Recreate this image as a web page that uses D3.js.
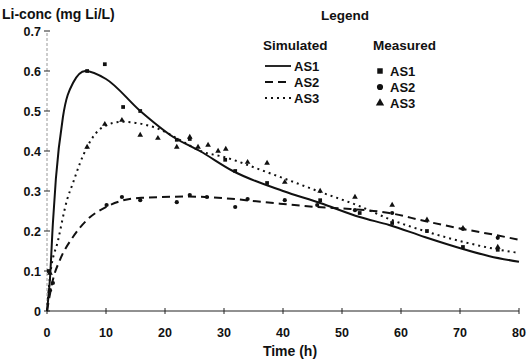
<!DOCTYPE html>
<html>
<head>
<meta charset="utf-8">
<script src="https://cdn.jsdelivr.net/npm/d3@7"></script>
<style>
	body { margin: 0; background: #fff; }
	svg text { font-family: "Liberation Sans", Arial, sans-serif; font-weight: bold; fill: #111; }
</style>
</head>
<body>
<div id="chart"></div>
<script>
// SIMULATED CURVES [time (h), Li-conc (mg Li/L)]
const simAS1 = [[0,0],[0.5,0.08],[1,0.22],[1.5,0.33],[2.7,0.485],[4.4,0.57],[6.5,0.60],[10,0.58],[15.8,0.50],[21.4,0.435],[25.9,0.40],[31.5,0.35],[40,0.30],[46.3,0.27],[53,0.235],[58,0.215],[64,0.185],[70.5,0.155],[75,0.137],[80,0.123]];
const simAS2 = [[0,0],[1,0.078],[2.2,0.128],[4.4,0.185],[6.8,0.228],[10,0.26],[12.5,0.275],[16,0.283],[24,0.286],[30,0.282],[37,0.272],[45.8,0.26],[51.4,0.255],[58,0.245],[64,0.225],[70.5,0.205],[76,0.19],[80,0.178]];
const simAS3 = [[0,0],[0.5,0.085],[1.9,0.178],[3.4,0.278],[4.4,0.32],[5.6,0.37],[6.8,0.41],[9.5,0.46],[12.7,0.473],[15.2,0.47],[18.6,0.457],[22.5,0.428],[26,0.40],[30,0.385],[37.3,0.347],[46.8,0.295],[53,0.262],[58,0.23],[64,0.2],[70.5,0.173],[76,0.155],[80,0.145]];

// MEASURED POINTS
const measAS1 = [[0.3,0.1],[6.8,0.60],[9.8,0.617],[12.9,0.51],[15.8,0.50],[22,0.428],[24.2,0.43],[30.2,0.378],[31.9,0.35],[37.3,0.32],[46.3,0.277],[53,0.245],[58.5,0.22],[64.4,0.2],[70.5,0.16],[76.4,0.153]];
const measAS2 = [[0.5,0.052],[1,0.07],[10.1,0.265],[12.7,0.285],[15.8,0.277],[22,0.272],[24.2,0.29],[27.1,0.285],[31.9,0.26],[34,0.28],[40.3,0.277],[45.8,0.265],[52.2,0.252],[58.5,0.245],[70.5,0.205],[76.4,0.183]];
const measAS3 = [[0.5,0.095],[6.8,0.41],[9.8,0.467],[12.7,0.477],[15.8,0.44],[18.8,0.432],[22,0.41],[24.2,0.435],[25.6,0.41],[27.3,0.415],[29,0.40],[30.3,0.405],[34,0.372],[37.3,0.37],[40.3,0.322],[46.3,0.30],[52.2,0.285],[58.5,0.265],[64.4,0.228],[70.5,0.207],[76.4,0.16]];

const xTicks = [0, 10, 20, 30, 40, 50, 60, 70, 80];
const yTicks = [0, 0.1, 0.2, 0.3, 0.4, 0.5, 0.6, 0.7];
const seriesNames = ["AS1", "AS2", "AS3"];

const width = 529, height = 361;
const svg = d3.select("#chart").append("svg")
	.attr("width", width).attr("height", height);

const x = d3.scaleLinear().domain([0, 80]).range([47, 519]);
const y = d3.scaleLinear().domain([0, 0.7]).range([311, 31]);

// AXES
svg.append("line")
	.attr("x1", x(0)).attr("x2", x(80)).attr("y1", y(0)).attr("y2", y(0))
	.attr("stroke", "#222").attr("stroke-width", 1);
svg.append("line")
	.attr("x1", x(0)).attr("x2", x(0)).attr("y1", y(0)).attr("y2", y(0.7))
	.attr("stroke", "#999").attr("stroke-width", 1).attr("stroke-dasharray", "3,2");

svg.append("g").selectAll("line").data(xTicks).join("line")
	.attr("x1", d => x(d)).attr("x2", d => x(d))
	.attr("y1", y(0) - 3).attr("y2", y(0) + 3)
	.attr("stroke", "#222");
svg.append("g").selectAll("text").data(xTicks).join("text")
	.attr("x", d => x(d)).attr("y", 337)
	.attr("text-anchor", "middle").attr("font-size", 12.5)
	.text(d => d);

svg.append("g").selectAll("line").data(yTicks).join("line")
	.attr("x1", x(0) - 3).attr("x2", x(0) + 3)
	.attr("y1", d => y(d)).attr("y2", d => y(d))
	.attr("stroke", "#222");
svg.append("g").selectAll("text").data(yTicks).join("text")
	.attr("x", 41).attr("y", d => y(d) + 4.5)
	.attr("text-anchor", "end").attr("font-size", 12.5)
	.text(d => d === 0 ? "0" : d.toFixed(1));

svg.append("text").attr("x", 2).attr("y", 19).attr("font-size", 14)
	.text("Li-conc (mg Li/L)");
svg.append("text").attr("x", 290).attr("y", 356).attr("font-size", 14)
	.attr("text-anchor", "middle").text("Time (h)");

// CURVES
const line = d3.line().x(d => x(d[0])).y(d => y(d[1])).curve(d3.curveMonotoneX);
const dashes = ["none", "8,5", "2,4"];
[simAS1, simAS2, simAS3].forEach((s, i) => {
	svg.append("path").datum(s)
		.attr("d", line)
		.attr("fill", "none").attr("stroke", "#111")
		.attr("stroke-width", 2)
		.attr("stroke-dasharray", dashes[i]);
});

// MARKERS
const symbols = [d3.symbolSquare, d3.symbolCircle, d3.symbolTriangle];
[measAS1, measAS2, measAS3].forEach((m, i) => {
	svg.append("g").selectAll("path").data(m).join("path")
		.attr("transform", d => `translate(${x(d[0])},${y(d[1])})`)
		.attr("d", d3.symbol().type(symbols[i]).size(14))
		.attr("fill", "#111");
});

// LEGEND
svg.append("text").attr("x", 345).attr("y", 20).attr("font-size", 13.5)
	.attr("text-anchor", "middle").text("Legend");
svg.append("text").attr("x", 263).attr("y", 50).attr("font-size", 13.5).text("Simulated");
svg.append("text").attr("x", 373).attr("y", 50).attr("font-size", 13.5).text("Measured");

seriesNames.forEach((name, i) => {
	const ly = 66 + i * 16;
	svg.append("line")
		.attr("x1", 265).attr("x2", 291).attr("y1", ly).attr("y2", ly)
		.attr("stroke", "#111").attr("stroke-width", 1.8)
		.attr("stroke-dasharray", dashes[i]);
	svg.append("text").attr("x", 294).attr("y", ly + 5).attr("font-size", 13).text(name);
	svg.append("path")
		.attr("transform", `translate(380,${ly + 5})`)
		.attr("d", d3.symbol().type(symbols[i]).size(30))
		.attr("fill", "#111");
	svg.append("text").attr("x", 390).attr("y", ly + 10).attr("font-size", 13).text(name);
});
</script>
</body>
</html>
